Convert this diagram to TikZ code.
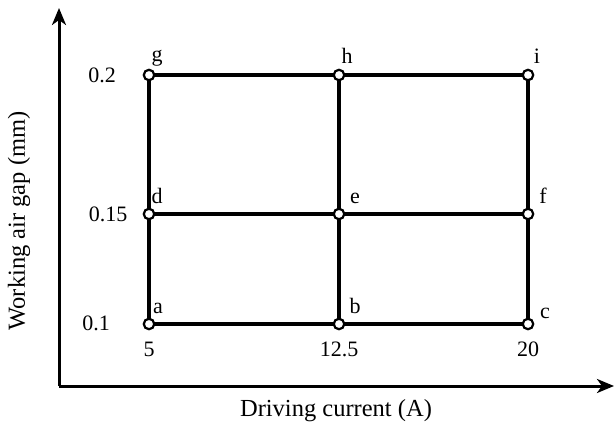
\documentclass[tikz,border=0pt]{standalone}
\usepackage{fontspec}
\setmainfont{Liberation Serif}
\usetikzlibrary{arrows.meta}
\begin{document}
\begin{tikzpicture}[x=1pt,y=-1pt,
  gridline/.style={line width=4pt},
  axis/.style={line width=3pt,-{Stealth[length=17pt,width=14pt,inset=5pt]}},
  pt/.style={circle,draw,fill=white,line width=2.2pt,inner sep=0pt,minimum size=10.5pt},
  lbl/.style={font=\fontsize{22}{25}\selectfont,inner sep=0pt},
  ttl/.style={font=\fontsize{24.5}{28}\selectfont,inner sep=0pt},
  ptlbl/.style={lbl,anchor=base}]
\useasboundingbox (0,0) rectangle (614,428);
% axes
\coordinate (O) at (59,386);
\coordinate (Ytop) at (59,8);
\coordinate (Xend) at (614,386);
\draw[axis] (O) -- (Ytop);
\draw[axis] (O) -- (Xend);
% grid points
\coordinate (a) at (149,324);
\coordinate (b) at (339,324);
\coordinate (c) at (528,324);
\coordinate (d) at (149,214);
\coordinate (e) at (339,214);
\coordinate (f) at (528,214);
\coordinate (g) at (149,75);
\coordinate (h) at (339,75);
\coordinate (i) at (528,75);
\draw[gridline] (g) -- (h) -- (i) -- (f) -- (c) -- (b) -- (a) -- (d) -- (g);
\draw[gridline] (d) -- (e) -- (f);
\draw[gridline] (h) -- (e) -- (b);
\foreach \p in {a,b,c,d,e,f,g,h,i}
  \node[pt] (n\p) at (\p) {};
% point labels
\node[ptlbl] (lg) at (157,62) {g};
\node[ptlbl] (lh) at (347,64) {h};
\node[ptlbl] (li) at (537,64) {i};
\node[ptlbl] (ld) at (157,204) {d};
\node[ptlbl] (le) at (355,204) {e};
\node[ptlbl] (lf) at (543,204) {f};
\node[ptlbl] (la) at (158,313) {a};
\node[ptlbl] (lb) at (355,313) {b};
\node[ptlbl] (lc) at (545,318) {c};
% tick labels
\node[lbl] (y1) at (96,323) {0.1};
\node[lbl] (y2) at (108,214) {0.15};
\node[lbl] (y3) at (102,75) {0.2};
\node[lbl] (x1) at (149,349) {5};
\node[lbl] (x2) at (339,349) {12.5};
\node[lbl] (x3) at (528,349) {20};
% axis titles
\node[ttl] (xt) at (336,411) {Driving current (A)};
\node[ttl,rotate=90] (yt) at (19,221) {Working air gap (mm)};
\end{tikzpicture}
\end{document}
